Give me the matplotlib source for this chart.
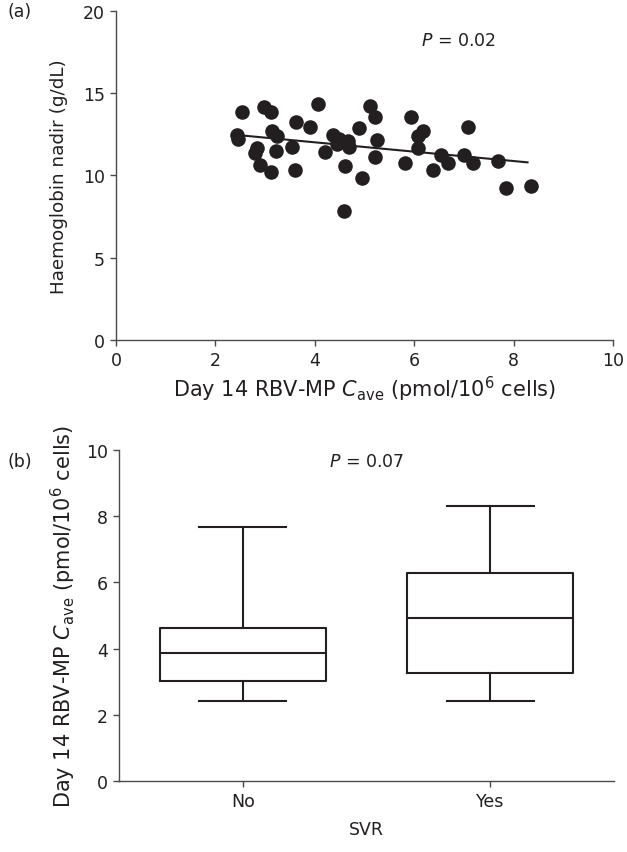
import matplotlib
matplotlib.use("Agg")
import matplotlib.pyplot as plt
import numpy as np

plt.rcParams["font.family"] = ["DejaVu Sans"]
plt.rcParams["mathtext.fontset"] = "dejavusans"

# Panel (a): RBV-MP Cave vs haemoglobin nadir
cave = [2.54, 2.98, 3.11, 4.07, 5.12, 5.22, 2.44, 2.46, 3.13, 3.23,
        3.62, 3.90, 2.83, 2.80, 3.21, 3.54, 2.90, 3.11, 3.60, 4.37,
        4.49, 4.44, 4.67, 4.69, 4.88, 4.21, 4.61, 4.94, 4.59, 5.26,
        5.21, 5.93, 6.17, 6.07, 6.08, 5.81, 6.38, 6.53, 6.67, 7.08,
        7.01, 7.18, 7.69, 7.84, 8.34]
hb_nadir = [13.83, 14.17, 13.86, 14.33, 14.20, 13.56, 12.45, 12.20, 12.71, 12.40,
            13.25, 12.91, 11.66, 11.35, 11.46, 11.70, 10.64, 10.22, 10.34, 12.45,
            12.20, 11.90, 12.10, 11.70, 12.85, 11.43, 10.55, 9.84, 7.81, 12.14,
            11.13, 13.56, 12.67, 12.37, 11.64, 10.73, 10.34, 11.23, 10.73, 12.91,
            11.23, 10.73, 10.85, 9.21, 9.33]
fit_x = [2.44, 8.28]
fit_y = [12.45, 10.79]

# Panel (b): box summary per SVR group (min, q1, median, q3, max)
svr_groups = ["No", "Yes"]
box_min = [2.41, 2.41]
box_q1 = [3.03, 3.25]
box_med = [3.87, 4.92]
box_q3 = [4.61, 6.27]
box_max = [7.68, 8.32]

INK = "#231f20"
AXIS = "#4a4a4a"
FS = 12.5
CAVE_FS = 15
XLAB = r"Day 14 RBV-MP $C_{\mathrm{ave}}$ (pmol/10$^{6}$ cells)"


def style_axes(ax):
    for s in ("top", "right"):
        ax.spines[s].set_visible(False)
    for s in ("left", "bottom"):
        ax.spines[s].set_color(AXIS)
        ax.spines[s].set_linewidth(1.0)
    ax.tick_params(direction="out", length=4, width=1.0, color=AXIS,
                   labelsize=FS, labelcolor=INK, pad=4)


fig = plt.figure(figsize=(6.27, 8.53), dpi=100)

# (a)
ax1 = fig.add_axes([0.185, 0.6002, 0.7927, 0.3861])
ax1.scatter(cave, hb_nadir, s=110, color=INK, zorder=3, linewidths=0)
ax1.plot(fit_x, fit_y, color=INK, lw=1.5, zorder=2)
ax1.set_xlim(0, 10)
ax1.set_ylim(0, 20)
ax1.set_xticks([0, 2, 4, 6, 8, 10])
ax1.set_yticks([0, 5, 10, 15, 20])
ax1.set_xlabel(XLAB, fontsize=CAVE_FS, color=INK, labelpad=3)
ax1.set_ylabel("Haemoglobin nadir (g/dL)", fontsize=13.2, color=INK, labelpad=11)
ax1.text(6.9, 18.2, r"$P$ = 0.02", fontsize=FS, color=INK, ha="center", va="center")
style_axes(ax1)
fig.text(0.012, 0.986, "(a)", fontsize=FS, color=INK, va="center")

# (b)
ax2 = fig.add_axes([0.1898, 0.0832, 0.7895, 0.3881])
stats = [dict(label=g, whislo=lo, q1=a, med=m, q3=b, whishi=hi)
         for g, lo, a, m, b, hi in zip(svr_groups, box_min, box_q1, box_med, box_q3, box_max)]
lp = dict(color=INK, linewidth=1.5)
ax2.bxp(stats, positions=[0, 1], widths=0.67, showfliers=False,
        boxprops=lp, medianprops=lp, whiskerprops=lp, capprops=lp,
        capwidths=0.35)
ax2.set_xlim(-0.5, 1.5)
ax2.set_ylim(0, 10)
ax2.set_yticks([0, 2, 4, 6, 8, 10])
ax2.set_xticks([0, 1])
ax2.set_xticklabels(svr_groups)
ax2.set_xlabel("SVR", fontsize=FS, color=INK, labelpad=7)
ax2.set_ylabel(XLAB, fontsize=CAVE_FS, color=INK, labelpad=6)
ax2.text(0.5, 9.68, r"$P$ = 0.07", fontsize=FS, color=INK, ha="center", va="center")
style_axes(ax2)
fig.text(0.012, 0.458, "(b)", fontsize=FS, color=INK, va="center")

fig.savefig("out.png", dpi=100)
